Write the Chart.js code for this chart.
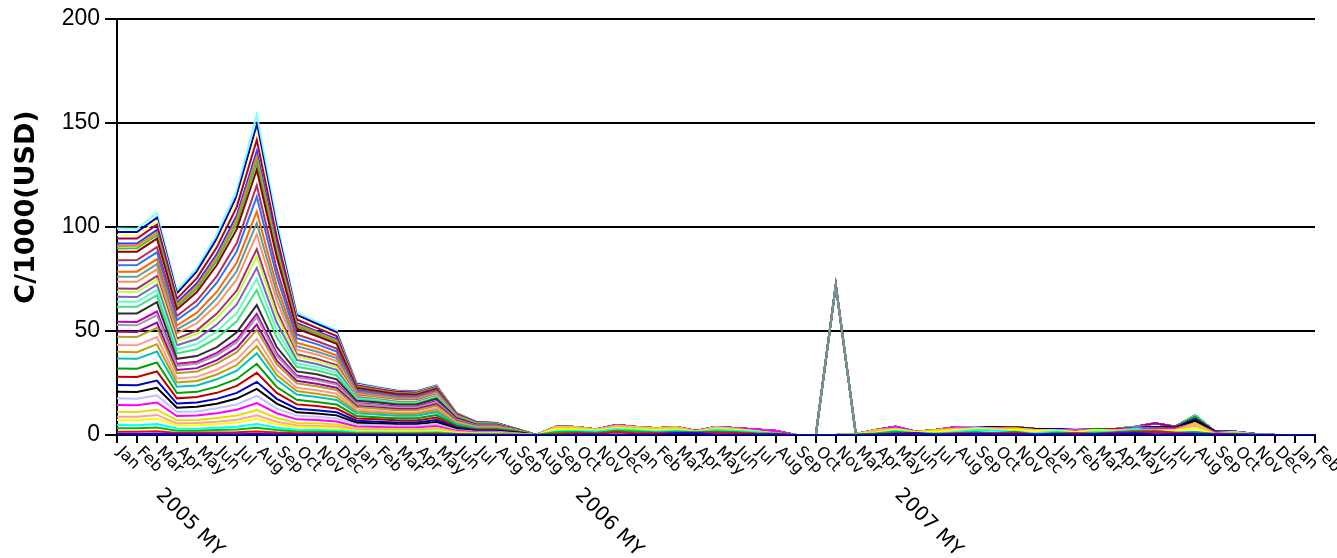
<!DOCTYPE html>
<html><head><meta charset="utf-8">
<script src="https://cdn.jsdelivr.net/npm/chart.js@4.4.0/dist/chart.umd.min.js"></script>
<style>html,body{margin:0;padding:0;background:#fff;}#wrap{width:1337px;height:558px;}</style>
</head><body><div id="wrap"><canvas id="c" width="1337" height="558"></canvas></div>
<script>
// ---- categories (x) ----
const categories = [
 'Jan','Feb','Mar','Apr','May','Jun','Jul','Aug','Sep','Oct','Nov','Dec','Jan','Feb','Mar','Apr','May','Jun','Jul','Aug','Sep',
 'Aug','Sep','Oct','Nov','Dec','Jan','Feb','Mar','Apr','May','Jun','Jul','Aug','Sep','Oct','Nov',
 'Mar','Apr','May','Jun','Jul','Aug','Sep','Oct','Nov','Dec','Jan','Feb','Mar','Apr','May','Jun','Jul','Aug','Sep','Oct','Nov','Dec','Jan','Feb'
];
const yearTickIndex = [0, 21, 37];
const yearTickText = ['2005 MY', '2006 MY', '2007 MY'];
const yTickValues = [0, 50, 100, 150, 200];
const yTitle = 'C/1000(USD)';

// ---- series values (stacked, bottom to top) ----
const s01=[0.5,0.5,0.55,0.31,0.33,0.36,0.42,0.54,0.36,0.26,0.25,0.23,0.14,0.14,0.13,0.13,0.15,0.07,0.04,0.04,0.03, 0,0,0.2,0.3,0.2,0.3,0.3,0.8,0.8,0.3,0.2,0.2,0.2,0,0,0, 0,0.2,0.5,0.8,0.2,0.4,0.6,0.4,0.5,0.3,0.5,0.3,0.5,0.6,0.8,0.4,0.5,0.6,0.2,0.2,0.1,0,0,0];
const s02=[1.1,1.1,1.2,0.7,0.7,0.8,0.9,1.2,0.8,0.6,0.55,0.5,0.3,0.3,0.28,0.28,0.33,0.15,0.1,0.1,0.06, 0,0.5,0.6,0.3,1.2,0.6,0.5,0.3,0.3,0.9,0.8,0.4,0.3,0,0,0, 0,0,0.3,0,0,0.4,0.3,0.5,0.6,0,0,0.6,0,0.6,0.6,1.2,0.6,0,0.3,0,0,0,0,0];
const s03=[1.6,1.6,1.8,1.0,1.0,1.2,1.3,1.7,1.2,0.8,0.8,0.7,0.45,0.43,0.4,0.4,0.48,0.22,0.14,0.14,0.08, 0,0.8,0.6,0.5,0.6,0.8,0.4,0.5,0.2,0.5,0.4,0.3,0.2,0,0,0, 0.3,0.5,0.8,0,0.4,0,0.5,0,0.5,0,0.6,0,0.4,0,0.5,0.5,0,0.8,0,0.4,0,0,0,0];
const s04=[1.6,1.5,1.7,1.1,1.0,1.1,1.4,1.8,1.1,0.9,0.8,0.7,0.5,0.4,0.4,0.45,0.5,0.2,0.15,0.12,0.1, 0,0.5,0.6,0.6,0.8,0.6,0.5,0.6,0.2,0.8,0.5,0.5,0,0,0,0, 0,0,0.4,0,0,0.6,1.0,1.2,0,0.6,0.6,0,0.6,0.5,0.7,0,0,0,0,0,0.2,0,0,0];
const s05=[2.4,2.4,2.6,1.5,1.6,1.7,2.0,2.6,1.7,1.25,1.2,1.1,0.67,0.65,0.6,0.6,0.72,0.34,0.21,0.21,0.12, 0,1.2,0.8,0.5,0.6,0.6,0.7,0.6,0.2,0.5,0.5,0.4,0,0,0,0, 0.2,0.5,0.6,0.4,1.0,1.0,0.5,0.4,0.8,1.0,0.5,0.6,0.9,0,0,0,1.2,2.0,0,0.3,0,0,0,0];
const s06=[1.6,1.7,1.8,0.9,1.1,1.2,1.3,1.6,1.2,0.8,0.75,0.7,0.45,0.45,0.42,0.38,0.45,0.24,0.13,0.15,0.08, 0,0.5,0.5,0.3,0.6,0.5,0.4,0.6,0,0.5,0.5,0,0,0,0,0, 0,0.6,0.4,0,0,0.6,0,0.6,0,0.5,0,0,0,0.6,0,0,0,1.0,0,0,0,0,0,0];
const s07=[2.4,2.3,2.5,1.6,1.5,1.8,2.1,2.5,1.8,1.2,1.25,1.1,0.7,0.6,0.62,0.58,0.7,0.32,0.22,0.2,0.12, 0,0.5,0.5,0.2,0.4,0.4,0.4,0.4,0,0.3,0,0,0,0,0,0, 0,0.6,0,0.4,0.8,0,0,0,0.7,0,0,0,0,0,0,0,0,1.2,0,0,0,0,0,0];
const s08=[3.2,3.2,3.5,2.0,2.1,2.3,2.7,3.4,2.3,1.7,1.6,1.5,0.9,0.86,0.8,0.8,0.96,0.45,0.28,0.28,0.16, 0,0,0,0,0.4,0,0,0,0.2,0,0.3,0.9,1.2,0,0,0, 0,0,1.0,0,0,0.7,0,0,0,0,0,0.8,0,0,0.6,1.0,0.7,0,0.6,0,0,0,0,0];
const s09=[3.2,3.1,3.4,2.1,2.0,2.4,2.6,3.5,2.2,1.8,1.6,1.4,0.95,0.85,0.82,0.78,0.95,0.47,0.27,0.3,0.15, 0,0,0,0,0,0,0,0,0,0,0,0,0,0,0,0, 0,0,0,0,0,0,0.8,0,0,0,0,0.6,0,0,0,0,0,0,0,0.7,0.2,0,0,0];
const s10=[3.2,3.3,3.6,1.9,2.2,2.2,2.8,3.3,2.4,1.6,1.55,1.5,0.88,0.88,0.78,0.82,0.98,0.43,0.29,0.26,0.17, 0,0,0,0,0,0,0,0,0,0,0,0,0,0,0,0, 0,0,0,0,0,0,0,0.6,0,0.5,0,0,0,0,0,0.8,0.5,1.2,0.5,0,0,0,0,0];
const s11=[3.2,3.2,3.5,2.0,2.1,2.3,2.7,3.4,2.3,1.7,1.6,1.5,0.9,0.86,0.8,0.8,0.96,0.45,0.28,0.28,0.16, 0,0,0,0,0,0,0,0,0,0,0,0,0,0,0,0, 0,0,0,0,0,0,0,0,0,0,0.7,0,0,0,0,0,0,0.8,0,0,0,0,0,0];
const s12=[4,4,4.4,2.5,2.6,2.9,3.4,4.3,2.9,2.1,2,1.8,1.1,1.1,1,1,1.2,0.56,0.34,0.34,0.2, 0,0,0,0,0,0,0,0,0,0,0,0,0,0,0,0, 0,0,0,0,0,0,0,0,0.6,0,0,0,0,0.6,0,0,0,0,0,0,0,0,0,0];
const s13=[4,3.9,4.3,2.6,2.5,3.0,3.3,4.4,2.8,2.2,1.9,1.9,1.15,1.05,1.0,1.05,1.2,0.55,0.35,0.33,0.2, 0,0,0,0,0,0,0,0,0,0,0,0,0,0,0,0, 0,0,0,0,0,0,0,0,0,0,0,0,0.5,0,0,0,0,1.0,0,0,0,0,0,0];
const s14=[4.8,4.8,5.3,3.0,3.1,3.5,4.0,5.1,3.5,2.5,2.4,2.2,1.3,1.3,1.2,1.2,1.4,0.67,0.41,0.41,0.24, 0,0,0,0,0,0,0,0,0,0,0,0,0,0,0,0, 0,0,0,0,0,0,0,0,0,0,0,0,0,0,0.8,0,0,0,0,0,0,0,0,0];
const s15=[3.2,3.2,3.5,2.0,2.1,2.3,2.7,3.4,2.3,1.7,1.6,1.5,0.9,0.86,0.8,0.8,0.96,0.45,0.28,0.28,0.16, 0,0,0,0,0,0,0,0,0,0,0,0,0,0,0,0, 0,0,0,0,0,0,0,0,0,0,0,0,0,0,0,0,0,0,0,0,0,0,0,0];
const s16=[3.2,3.3,3.4,2.0,2.0,2.3,2.8,3.5,2.3,1.6,1.6,1.5,0.9,0.9,0.8,0.8,0.95,0.45,0.28,0.27,0.16, 0,0,0,0,0,0,0,0,0,0,0,0,0,0,0,0, 0,0,0,0,0,0,0,0,0,0,0,0,0,0,0,0,0,0,0,0,0,0,0,0];
const s17=[4,4,4.4,2.5,2.6,2.9,3.4,4.3,2.9,2.1,2,1.8,1.1,1.1,1,1,1.2,0.56,0.34,0.34,0.2, 0,0,0,0,0,0,0,0,0,0,0,0,0,0,0,0, 0,0,0,0,0,0,0,0,0,0,0,0,0,0,0,0,0,0,0,0,0,0,0,0];
const s18=[2.4,2.4,2.6,1.5,1.6,1.7,2.0,2.6,1.7,1.25,1.2,1.1,0.67,0.65,0.6,0.6,0.72,0.34,0.21,0.21,0.12, 0,0,0,0,0,0,0,0,0,0,0,0,0,0,0,0, 0,0,0,0,0,0,0,0,0,0,0,0,0,0,0,1.7,0.5,0,0,0,0,0,0,0];
const s19=[3.2,3.2,3.5,2.0,2.1,2.3,2.7,3.4,2.3,1.7,1.6,1.5,0.9,0.86,0.8,0.8,0.96,0.45,0.28,0.28,0.16, 0,0,0,0,0,0,0,0,0,0,0,0,0,0,0,0, 0,0,0,0,0,0,0,0,0,0,0,0,0,0,0,0,0,0,0,0,0,0,0,0];
const s20=[1.6,1.6,1.8,1.0,1.0,1.2,1.3,1.7,1.2,0.8,0.8,0.7,0.45,0.43,0.4,0.4,0.48,0.22,0.14,0.14,0.08, 0,0,0,0,0,0,0,0,0,0,0,0,0,0,0,0, 0,0,0,0,0,0,0,0,0,0,0,0,0,0,0,0,0,0,0,0,0,0,0,0];
const s21=[4,4.1,4.5,2.4,2.7,2.8,3.5,4.2,3.0,2.0,2.1,1.8,1.1,1.1,1.0,0.95,1.2,0.57,0.33,0.35,0.2, 0,0,0,0,0,0,0,0,0,0,0,0,0,0,0,0, 0,0,0,0,0,0,0,0,0,0,0,0,0,0,0,0,0,0,0,0,0,0,0,0];
const s22=[3.2,3.2,3.3,2.6,3.3,4.3,5.3,7.2,4.7,2.2,2.0,1.8,0.67,0.58,0.54,0.51,0.51,0.19,0.1,0.06,0, 0,0,0,0,0,0,0,0,0,0,0,0,0,0,0,0, 0,0,0,0,0,0,0,0,0,0,0,0,0,0,0,0,0,0.8,0,0,0,0,0,0];
const s23=[2.4,2.4,2.5,1.9,2.5,3.2,4.0,5.4,3.5,1.7,1.5,1.4,0.5,0.43,0.41,0.38,0.38,0.14,0.07,0.05,0, 0,0,0,0,0,0,0,0,0,0,0,0,0,0,0,0, 0,0,0,0,0,0,0,0,0,0,0,0,0,0,0,0,0,0,0,0,0,0,0,0];
const s24=[2.4,2.3,2.6,2.0,2.4,3.3,4.1,5.3,3.6,1.6,1.5,1.4,0.52,0.44,0.4,0.39,0.38,0.15,0.07,0.05,0, 0,0,0,0,0,0,0,0,0,0,0,0,0,0,0,0, 0,0,0,0,0,0,0,0,0,0,0,0,0,0,0,0,0,0,0,0,0,0,0,0];
const s25=[2.4,2.4,2.5,1.9,2.5,3.2,4.0,5.4,3.5,1.7,1.5,1.4,0.5,0.43,0.41,0.38,0.38,0.14,0.07,0.05,0, 0,0,0,0,0,0,0,0,0,0,0,0,0,0,0,0, 0,0,0,0,0,0,0,0,0,0,0,0,0,0,0,0,0,0,0,0,0,0,0,0];
const s26=[1.6,1.6,1.65,1.3,1.65,2.1,2.7,3.6,2.35,1.1,1.0,0.9,0.34,0.29,0.27,0.26,0.26,0.1,0.05,0.03,0, 0,0,0,0,0,0,0,0,0,0,0,0,0,0,0,0, 0,0,0,0,0,0,0,0,0,0,0,0,0,0,0,0,0,0,0,0,0,0,0,0];
const s27=[3.2,3.3,3.2,2.5,3.4,4.2,5.4,7.1,4.8,2.1,2.0,1.9,0.66,0.6,0.53,0.52,0.5,0.2,0.1,0.06,0, 0,0,0,0,0,0,0,0,0,0,0,0,0,0,0,0, 0,0,0,0,0,0,0,0,0,0,0,0,0,0,0,0,0,0,0,0,0,0,0,0];
const s28=[2.4,2.4,2.5,1.9,2.5,3.2,4.0,5.4,3.5,1.7,1.5,1.4,0.5,0.43,0.41,0.38,0.38,0.14,0.07,0.05,0, 0,0,0,0,0,0,0,0,0,0,0,0,0,0,0,72, 0,0,0,0,0,0,0,0,0,0,0,0,0,0,0,0,0,0,0,0,0,0,0,0];
const s29=[2.4,2.5,2.4,1.9,2.6,3.1,4.1,5.5,3.4,1.7,1.5,1.4,0.5,0.43,0.41,0.38,0.38,0.14,0.07,0.05,0, 0,0,0,0,0,0,0,0,0,0,0,0,0,0,0,0, 0,0,0,0,0,0,0,0,0,0,0,0,0,0,0,0,0,0,0,0,0,0,0,0];
const s30=[3.2,3.2,3.3,2.6,3.3,4.3,5.3,7.2,4.7,2.2,2.0,1.8,0.67,0.58,0.54,0.51,0.51,0.19,0.1,0.06,0, 0,0,0,0,0,0,0,0,0,0,0,0,0,0,0,0, 0,0,0,0,0,0,0,0,0,0,0,0,0,0,0,0,0,0,0,0,0,0,0,0];
const s31=[2.4,2.4,2.5,1.9,2.5,3.2,4.0,5.4,3.5,1.7,1.5,1.4,0.5,0.43,0.41,0.38,0.38,0.14,0.07,0.05,0, 0,0,0,0,0,0,0,0,0,0,0,0,0,0,0,0, 0,0,0,0,0,0,0,0,0,0,0,0,0,0,0,0,0,0,0,0,0,0,0,0];
const s32=[4,4,4.1,3.2,4.1,5.3,6.7,7.5,5.9,2.8,2.4,2.3,0.84,0.72,0.68,0.64,0.64,0.24,0.12,0.08,0, 0,0,0,0,0,0,0,0,0,0,0,0,0,0,0,0, 0,0,0,0,0,0,0,0,0,0,0,0,0,0,0,0,0,0,0,0,0,0,0,0];
const s33=[1.6,1.6,1.65,1.3,1.65,2.1,2.7,3.6,2.35,1.1,1.0,0.9,0.34,0.29,0.27,0.26,0.26,0.1,0.05,0.03,0, 0,0,0,0,0,0,0,0,0,0,0,0,0,0,0,0, 0,0,0,0,0,0,0,0,0,0,0,0,0,0,0,0,0,0,0,0,0,0,0,0];
const s34=[1.2,1.2,1.25,1.0,1.25,1.6,2.0,2.7,1.8,0.8,0.7,0.7,0.25,0.22,0.2,0.19,0.19,0.07,0.04,0.02,0, 0,0,0,0,0,0,0,0,0,0,0,0,0,0,0,0, 0,0,0,0,0,0,0,0,0,0,0,0,0,0,0,0,0,0,0,0,0,0,0,0];
const s35=[1.2,1.1,1.3,0.9,1.3,1.6,2.0,2.6,1.8,0.85,0.7,0.7,0.25,0.22,0.2,0.19,0.19,0.07,0.04,0.02,0, 0,0,0,0,0,0,0,0,0,0,0,0,0,0,0,0, 0,0,0,0,0,0,0,0,0,0,0,0,0,0,0,0,0,0,0,0,0,0,0,0];
const s36=[2.4,2.4,2.5,1.9,2.5,3.2,4.0,5.4,3.5,1.7,1.5,1.4,0.5,0.43,0.41,0.38,0.38,0.14,0.07,0.05,0, 0,0,0,0,0,0,0,0,0,0,0,0,0,0,0,0, 0,0,0,0,0,0,0,0,0,0,0,0,0,0,0,0,0,0,0,0,0,0,0,0];
const s37=[1.6,1.6,1.65,1.3,1.65,2.1,2.7,3.6,2.35,1.1,1.0,0.9,0.34,0.29,0.27,0.26,0.26,0.1,0.05,0.03,0, 0,0,0,0,0,0,0,0,0,0,0,0,0,0,0,0, 0,0,0,0,0,0,0,0,0,0,0,0,0,0,0,0,0,0,0,0,0,0,0,0];
const s38=[1.6,1.5,1.7,1.3,1.6,2.1,2.6,3.6,2.4,1.1,1.0,0.9,0.34,0.29,0.27,0.26,0.26,0.1,0.05,0.03,0, 0,0,0,0,0,0,0,0,0,0,0,0,0,0,0,0, 0,0,0,0,0,0,0,0,0,0,0,0,0,0,0,0,0,0,0,0,0,0,0,0];
const s39=[1.6,1.6,2.2,1.3,1.65,2.1,2.7,5.0,2.35,1.1,1.0,0.9,0.34,0.29,0.27,0.26,0.26,0.1,0.05,0.03,0, 0,0,0,0,0,0,0,0,0,0,0,0,0,0,0,0, 0,0,0,0,0,0,0,0,0,0,0,0,0,0,0,0,0,0,0,0,0,0,0,0];

const seriesList = [s01,s02,s03,s04,s05,s06,s07,s08,s09,s10,s11,s12,s13,s14,s15,s16,s17,s18,s19,s20,
  s21,s22,s23,s24,s25,s26,s27,s28,s29,s30,s31,s32,s33,s34,s35,s36,s37,s38,s39];
const seriesColors = ['#0000ff','#ff0000','#00c000','#00ffff','#ffff00','#ffa0a0','#e0e000','#ff00ff','#c0c0ff','#000000',
  '#0000c0','#c00000','#00a000','#00c0c0','#c0a000','#ff9999','#b0a020','#a000a0','#a0a0a0','#c000c0',
  '#303030','#40e080','#60ffc0','#8060c0','#c0ff40','#a03070','#ff9060','#5f9ea0','#ff6600','#3070ff',
  '#b03060','#900000','#40c040','#ff8000','#2040ff','#a00050','#ffff80','#0000c0','#80ffff'];

const LABEL_ANGLE = 45 * Math.PI / 180;

const xLabelPlugin = {
  id: 'xLabels',
  afterDraw(chart) {
    const xs = chart.scales.x, ctx = chart.ctx;
    ctx.save();
    ctx.fillStyle = '#000';
    ctx.textAlign = 'left';
    ctx.textBaseline = 'top';
    categories.forEach((lab, i) => {
      const x = xs.getPixelForTick(i);
      ctx.save();
      ctx.translate(x + 8, xs.top + 9);
      ctx.rotate(LABEL_ANGLE);
      ctx.font = '16px "DejaVu Sans"';
      ctx.fillText(lab, 0, 0);
      const yi = yearTickIndex.indexOf(i);
      if (yi >= 0) {
        ctx.font = '20px "DejaVu Sans"';
        ctx.fillText(yearTickText[yi], 58, 0);
      }
      ctx.restore();
    });
    ctx.restore();
  }
};

const yTitlePlugin = {
  id: 'yTitle',
  afterDraw(chart) {
    const ctx = chart.ctx;
    ctx.save();
    ctx.translate(27, 207);
    ctx.rotate(-Math.PI / 2);
    ctx.font = 'bold 27px "DejaVu Sans"';
    ctx.fillStyle = '#000';
    ctx.textAlign = 'center';
    ctx.textBaseline = 'middle';
    ctx.fillText(yTitle, 0, 0);
    ctx.restore();
  }
};

const datasets = seriesList.map((d, i) => ({
  label: 'S' + (i + 1),
  data: d,
  borderColor: seriesColors[i],
  backgroundColor: seriesColors[i],
  borderWidth: 2,
  pointRadius: 0,
  fill: false,
  tension: 0
}));

new Chart(document.getElementById('c'), {
  type: 'line',
  data: { labels: categories, datasets },
  options: {
    responsive: false,
    animation: false,
    devicePixelRatio: 1,
    layout: { padding: { left: 0, right: 22, top: 15, bottom: 0 } },
    plugins: { legend: { display: false }, tooltip: { enabled: false } },
    scales: {
      x: {
        type: 'category',
        offset: false,
        grid: { display: true, drawOnChartArea: false, drawTicks: true, tickLength: 8, color: '#000', lineWidth: 2 },
        border: { display: true, color: '#000', width: 2 },
        ticks: { display: false, autoSkip: false },
        afterFit(s) { s.height = 123; }
      },
      y: {
        stacked: true,
        min: 0, max: 200,
        afterBuildTicks(s) { s.ticks = yTickValues.map(v => ({ value: v })); },
        ticks: { color: '#000', font: { family: 'Liberation Sans', size: 23 }, padding: 5 },
        grid: { color: '#000', lineWidth: 2, tickLength: 12 },
        border: { display: true, color: '#000', width: 2 },
        afterFit(s) { s.width = 117; }
      }
    }
  },
  plugins: [xLabelPlugin, yTitlePlugin]
});
</script></body></html>
